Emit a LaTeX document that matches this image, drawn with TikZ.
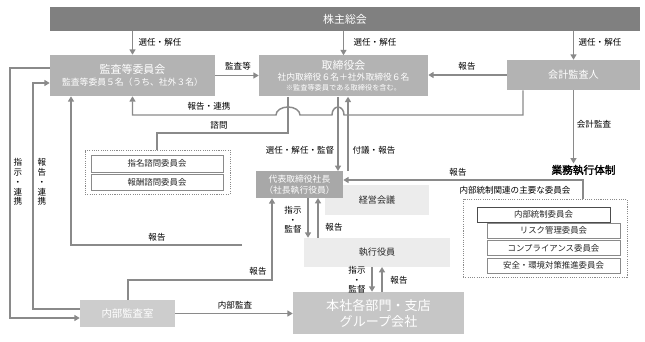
\documentclass[tikz,border=0pt]{standalone}
\usepackage{fontspec}
\setmainfont{Noto Sans CJK JP}[AutoFakeBold=2]
\usetikzlibrary{arrows.meta,positioning}
\definecolor{barGray}{HTML}{808080}
\definecolor{boxGray}{HTML}{B3B3B3}
\definecolor{presGray}{HTML}{A8A8A8}
\definecolor{deptGray}{HTML}{C6C6C6}
\definecolor{auditGray}{HTML}{CDCDCD}
\definecolor{paleGray}{HTML}{ECECEC}
\definecolor{lineGray}{HTML}{8A8A8A}

\begin{document}
\begin{tikzpicture}[x=0.75pt,y=-0.75pt,line join=miter,
  box/.style={fill=#1,text=white,align=center,inner sep=0pt},
  pale/.style={fill=paleGray,text=black!85,align=center,inner sep=0pt,font=\fontsize{6.8}{8}\selectfont},
  grp/.style={draw=lineGray,line width=0.6pt,dash pattern=on 0.8pt off 0.9pt,inner sep=0pt},
  iin/.style={draw=#1,line width=0.6pt,fill=white,inner sep=0pt,font=\fontsize{6.3}{7.5}\selectfont,text=black!85},
  lbl/.style={inner sep=0.5pt,font=\fontsize{6.4}{7.5}\selectfont,align=center},
  ln/.style={draw=lineGray,line width=1.1pt},
  arr/.style={ln,-{Triangle[width=4.5pt,length=4pt]}}]
  \useasboundingbox (0,0) rectangle (645,342);

  % boxes
  \node[box=barGray,minimum width=442.5pt,minimum height=18pt,font=\fontsize{8.2}{10}\selectfont] (soukai) at (345,19) {株主総会};
  \node[box=boxGray,minimum width=123.75pt,minimum height=30.75pt,font=\fontsize{6.6}{8.6}\selectfont] (kansa) at (132.5,75.5)
    {{\fontsize{8.2}{9}\selectfont 監査等委員会}\\監査等委員５名（うち、社外３名）};
  \node[box=boxGray,minimum width=126.75pt,minimum height=30.75pt,font=\fontsize{6.6}{7.9}\selectfont] (torishimari) at (343.5,76)
    {{\fontsize{8.2}{9}\selectfont 取締役会}\\社内取締役６名＋社外取締役６名\\{\fontsize{5.4}{6.5}\selectfont ※監査等委員である取締役を含む。}};
  \node[box=boxGray,minimum width=99.75pt,minimum height=22.5pt,font=\fontsize{7.6}{9}\selectfont] (kaikei) at (573.5,75) {会計監査人};
  \node[pale,minimum width=78pt,minimum height=22.5pt] (keiei) at (377,200) {経営会議};
  \node[box=presGray,minimum width=65.25pt,minimum height=20.25pt,font=\fontsize{6.6}{8}\selectfont] (shacho) at (299.5,184.5) {代表取締役社長\\（社長執行役員）};
  \node[pale,minimum width=109.5pt,minimum height=21.75pt] (shikkou) at (377,252.5) {執行役員};
  \node[box=deptGray,minimum width=128.25pt,minimum height=31.5pt,font=\fontsize{9.8}{12}\selectfont] (honsha) at (378.5,313) {本社各部門・支店\\グループ会社};
  \node[box=auditGray,minimum width=71.25pt,minimum height=20.25pt,font=\fontsize{7.8}{9}\selectfont] (naibu) at (127.5,313.5) {内部監査室};

  % committees
  \node[grp,minimum width=108.75pt,minimum height=33pt] (shimon) at (157.5,172) {};
  \node[iin=lineGray,minimum width=99pt,minimum height=12.75pt] (shimei) at (157,163.5) {指名諮問委員会};
  \node[iin=lineGray,minimum width=99pt,minimum height=12pt] (houshu) at (157,182) {報酬諮問委員会};
  \node[grp,minimum width=123pt,minimum height=58.5pt] (tousei) at (545,238) {};
  \node[iin=black!70,minimum width=99.75pt,minimum height=11.25pt] (naibutousei) at (543.5,214.5) {内部統制委員会};
  \node[iin=lineGray,minimum width=99.75pt,minimum height=11.25pt] (risk) at (553.5,230.5) {リスク管理委員会};
  \node[iin=lineGray,minimum width=99.75pt,minimum height=11.25pt] (comp) at (553.5,248) {コンプライアンス委員会};
  \node[iin=lineGray,minimum width=99.75pt,minimum height=11.25pt] (anzen) at (553.5,265.5) {安全・環境対策推進委員会};
  \node[lbl] (touseilbl) at (515,190) {内部統制関連の主要な委員会};
  \node[font=\fontsize{8}{9}\selectfont\bfseries,inner sep=1pt] (gyomu) at (583.5,170) {業務執行体制};

  % bends
  \coordinate (r1) at (523,115);
  \coordinate (s1) at (288,133);
  \coordinate (s2) at (157,133);
  \coordinate (dn) at (338,171);
  \coordinate (up) at (348,171);
  \coordinate (k1) at (583,180);
  \coordinate (c1) at (308,198);
  \coordinate (c2) at (318,198);
  \coordinate (e1) at (372,267);
  \coordinate (e2) at (382,267);
  \coordinate (n1) at (128,280);
  \coordinate (n2) at (272,280);
  \coordinate (h1) at (242,245);
  \coordinate (h2) at (71,245);
  \coordinate (l1) at (10,68);
  \coordinate (l2) at (10,318);
  \coordinate (m1) at (33,309);
  \coordinate (m2) at (33,83);

  % connectors
  \draw[arr] (kansa.north |- soukai.south) -- (kansa.north);
  \draw[arr] (torishimari.north |- soukai.south) -- (torishimari.north);
  \draw[arr] (kaikei.north |- soukai.south) -- (kaikei.north);
  \draw[arr] (kansa.east) -- (torishimari.west |- kansa.east);
  \draw[arr] (kaikei.west) -- (torishimari.east |- kaikei.west);
  \draw[arr] (kaikei.south -| r1) -- (r1) -- (344,115)
    arc[start angle=0,end angle=180,x radius=4.5pt,y radius=6pt] -- (300,115)
    arc[start angle=0,end angle=180,x radius=9pt,y radius=6pt] -- (kansa.south |- r1) -- (kansa.south);
  \draw[ln] (torishimari.south -| s1) -- (s1) -- (s2) -- (shimon.north -| s2);
  \draw[arr] (torishimari.south -| dn) -- (dn);
  \draw[arr] (up) -- (torishimari.south -| up);
  \draw[arr] (tousei.north -| k1) -- (k1) -- (shacho.east |- k1);
  \draw[arr] (kaikei.south) -- (kaikei.south |- gyomu.north);
  \draw[arr] (c1) -- (shikkou.north -| c1);
  \draw[arr] (shikkou.north -| c2) -- (c2);
  \draw[arr] (e1) -- (honsha.north -| e1);
  \draw[arr] (honsha.north -| e2) -- (e2);
  \draw[arr] (naibu.east) -- (honsha.west |- naibu.east);
  \draw[arr] (naibu.north -| n1) -- (n1) -- (n2) -- (shacho.south -| n2);
  \draw[arr] (h1) -- (h2) -- (kansa.south -| h2);
  \draw[arr] (kansa.west |- l1) -- (l1) -- (l2) -- (naibu.west |- l2);
  \draw[arr] (naibu.west |- m1) -- (m1) -- (m2) -- (kansa.west |- m2);

  % labels
  \node[lbl] at (160,42) {選任・解任};
  \node[lbl] at (375,42) {選任・解任};
  \node[lbl] at (600,42) {選任・解任};
  \node[lbl] at (238,66) {監査等};
  \node[lbl] at (467,66) {報告};
  \node[lbl] at (209,106) {報告・連携};
  \node[lbl] at (219,125) {諮問};
  \node[lbl] at (300,150) {選任・解任・監督};
  \node[lbl] at (374,150) {付議・報告};
  \node[lbl] at (458,172) {報告};
  \node[lbl] at (594,124) {会計監査};
  \node[lbl,font=\fontsize{6.4}{7.2}\selectfont] at (293,220) {指示\\・\\監督};
  \node[lbl] at (334,227) {報告};
  \node[lbl,font=\fontsize{6.4}{7.2}\selectfont] at (357,280) {指示\\・\\監督};
  \node[lbl] at (399,280) {報告};
  \node[lbl] at (235,305) {内部監査};
  \node[lbl] at (258,271) {報告};
  \node[lbl] at (157,237) {報告};
  \node[lbl,font=\fontsize{6.4}{7.4}\selectfont] at (18,182) {指\\示\\・\\連\\携};
  \node[lbl,font=\fontsize{6.4}{7.4}\selectfont] at (42,182) {報\\告\\・\\連\\携};
\end{tikzpicture}
\end{document}
